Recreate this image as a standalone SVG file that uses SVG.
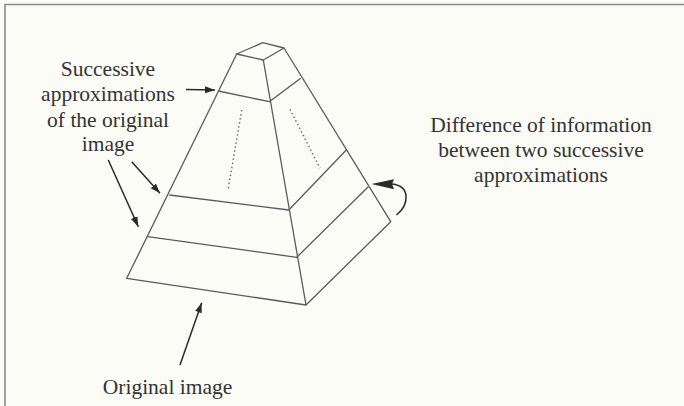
<svg xmlns="http://www.w3.org/2000/svg" width="684" height="406" viewBox="0 0 684 406">
<style>
.bg{fill:#fcfcf7}
.frame{fill:none;stroke:#8a8a8a;stroke-width:1.6}
.edge{fill:none;stroke:#5a5a5a;stroke-width:1.3;stroke-linejoin:round}
.dot{fill:none;stroke:#6a6a6a;stroke-width:1.4;stroke-dasharray:1.5 2.6}
.arr{fill:none;stroke:#2a2a2a;stroke-width:1.5}
.lbl{font-family:"Liberation Serif","Times New Roman",serif;font-size:21.5px;fill:#333;text-anchor:middle}
</style>
<defs>
<marker id="ah" markerUnits="userSpaceOnUse" markerWidth="11" markerHeight="8" refX="10" refY="3.5" orient="auto">
<path d="M0,0 L10,3.5 L0,7 z" fill="#2a2a2a"/>
</marker>
</defs>
<rect class="bg" x="0" y="0" width="684" height="406"/>
<path class="frame" d="M5,406 L5,4.5 L684,4.5"/>
<g id="pyramid">
<path class="edge" d="M236.7,54 L262.7,42.7 L284,48 L263.3,60 Z"/>
<path class="edge" d="M236.7,54 L126.7,278.3 L306,305 L390.7,221.7 L284,48"/>
<path class="edge" d="M263.3,60 L306,305"/>
<path class="edge" d="M218.3,91 L269.3,101.7 L300.7,78.3"/>
<path class="edge" d="M169.3,195 L288.8,210 L346.3,150"/>
<path class="edge" d="M147.7,236.7 L296.7,257.3 L368.3,186.7"/>
<path class="dot" d="M241.7,110 L228.3,188.3"/>
<path class="dot" d="M290,109.3 L320,168.3"/>
</g>
<g id="label-approx">
<text class="lbl" x="108" y="75.5">Successive</text>
<text class="lbl" x="108" y="101">approximations</text>
<text class="lbl" x="108" y="126.5">of the original</text>
<text class="lbl" x="108" y="151">image</text>
</g>
<g id="label-difference">
<text class="lbl" x="541" y="132">Difference of information</text>
<text class="lbl" x="541" y="157">between two successive</text>
<text class="lbl" x="541" y="182">approximations</text>
</g>
<g id="label-original">
<text class="lbl" x="167.5" y="394">Original image</text>
</g>
<g id="connectors">
<line class="arr" x1="186" y1="89.5" x2="215" y2="90" marker-end="url(#ah)"/>
<line class="arr" x1="131.7" y1="161.7" x2="160" y2="193.3" marker-end="url(#ah)"/>
<line class="arr" x1="108.3" y1="160" x2="138.3" y2="226.7" marker-end="url(#ah)"/>
<line class="arr" x1="180" y1="365" x2="201.7" y2="302.7" marker-end="url(#ah)"/>
<path class="arr" d="M396.5,215 C409,205 411,186 392,184"/>
<path d="M371.5,184 L394,179.3 L392,184 L394,189.3 Z" fill="#2a2a2a"/>
</g>
</svg>
